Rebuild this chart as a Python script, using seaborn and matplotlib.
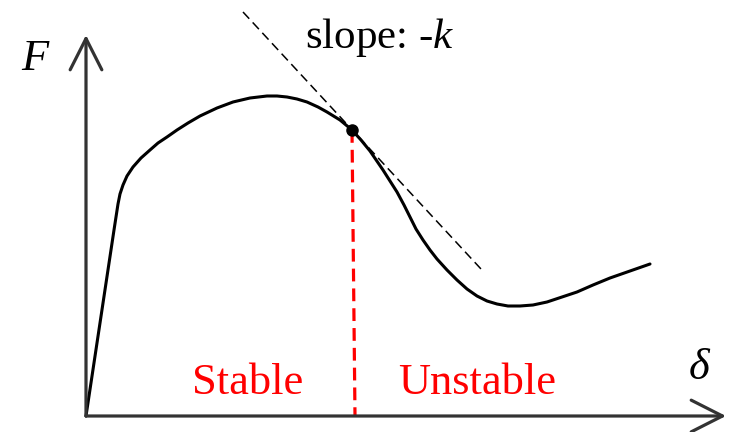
import matplotlib
matplotlib.use("Agg")
from matplotlib import pyplot as plt
import seaborn as sns
import pandas as pd
import numpy as np

# load-displacement curve (delta right, F up; origin at the axes corner)
delta = [0, 28, 30, 32, 34, 37, 41, 47, 55, 64, 72, 81, 91, 102, 114, 131, 147, 164, 181,
         191, 201, 211, 221, 232, 241, 254, 266, 275, 284, 297, 304, 311, 318, 324, 330,
         337, 344, 351, 361, 371, 381, 391, 401, 411, 422, 434, 447, 461, 476, 491, 507,
         524, 544, 564]
force = [0, 186, 199, 212, 222, 231, 240, 249, 258, 266, 273, 279, 286, 293, 300, 308, 314,
         318, 320, 320, 319, 317, 314, 309, 304, 296, 286, 276, 265, 246, 235, 224, 211,
         199, 187, 176, 166, 157, 146, 136, 127, 120, 115, 112, 110, 110, 111, 114, 119,
         124, 131, 138, 145, 152]

# tangent (slope -k) end points and the critical point
tangent_d = [157, 395]
tangent_f = [404, 147]
crit_d = [266]
crit_f = [286]
split_d = [266, 269]
split_f = [286, 0]

curve = pd.DataFrame({"delta": delta, "F": force})

sns.set_style("white")
plt.rcParams["text.color"] = "black"
plt.rcParams["mathtext.fontset"] = "custom"
plt.rcParams["mathtext.rm"] = "Liberation Serif"
plt.rcParams["mathtext.it"] = "Liberation Serif:italic"

fig = plt.figure(figsize=(7.32, 4.32), dpi=100)
ax = fig.add_axes([0, 0, 1, 1])
ax.set_xlim(-86, 646)
ax.set_ylim(-16, 416)
ax.axis("off")

axis_col = "#333333"
ax.annotate("", xy=(640, 0), xytext=(0, 0),
            arrowprops=dict(arrowstyle="->,head_length=0.75,head_width=0.38",
                            color=axis_col, lw=2.3, mutation_scale=30, shrinkA=0, shrinkB=0))
ax.annotate("", xy=(0, 381), xytext=(0, 0),
            arrowprops=dict(arrowstyle="->,head_length=0.75,head_width=0.38",
                            color=axis_col, lw=2.3, mutation_scale=30, shrinkA=0, shrinkB=0))

sns.lineplot(data=curve, x="delta", y="F", sort=False, ax=ax, color="black",
             lw=2.2, solid_joinstyle="round", solid_capstyle="round")
ax.plot(tangent_d, tangent_f, color="black", lw=1.1, dashes=(6, 3.3))
ax.plot(split_d, split_f, color="red", lw=2.3, dashes=(4, 2.2))
ax.plot(crit_d, crit_f, "o", color="black", ms=8)

ax.set_xlabel("")
ax.set_ylabel("")

ax.text(-51, 357, "F", fontsize=32, family="Liberation Serif", style="italic",
        color="black", ha="center", va="center")
ax.text(613, 48, "δ", fontsize=32, family="Liberation Serif", style="italic",
        color="black", ha="center", va="center")
ax.text(294, 368, r"slope: -$k$", fontsize=31, family="Liberation Serif",
        color="black", ha="center", va="baseline")
ax.text(162, 22, "Stable", fontsize=32, family="Liberation Serif", color="red",
        ha="center", va="baseline")
ax.text(391, 22, "Unstable", fontsize=32, family="Liberation Serif", color="red",
        ha="center", va="baseline")

plt.savefig("out.png", dpi=100)
